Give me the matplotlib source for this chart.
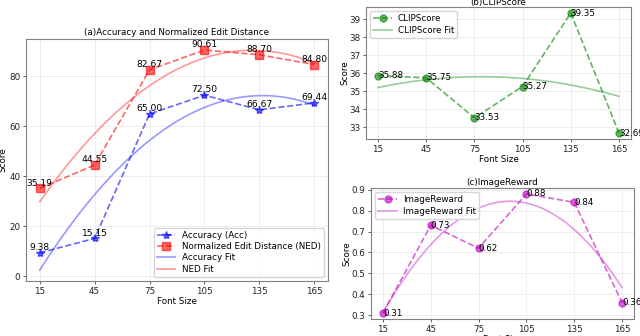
import numpy as np
import matplotlib
matplotlib.use("Agg")
import matplotlib.pyplot as plt
from matplotlib.ticker import MultipleLocator

font_sizes = [15, 45, 75, 105, 135, 165]
acc = [9.38, 15.15, 65.00, 72.50, 66.67, 69.44]
ned = [35.19, 44.55, 82.67, 90.61, 88.70, 84.80]
clip = [35.88, 35.75, 33.53, 35.27, 39.35, 32.69]
imgreward = [0.31, 0.73, 0.62, 0.88, 0.84, 0.36]

W, H = 640, 336
fig = plt.figure(figsize=(6.4, 3.36), dpi=100)
FS = 6.3
LW = 1.2

def px(l, t, r, b):
    return [l / W, 1 - b / H, (r - l) / W, (b - t) / H]

def style(ax):
    for s in ax.spines.values():
        s.set_color('#808080')
        s.set_linewidth(0.8)
    ax.grid(True, color='#ebebeb', linewidth=0.6)
    ax.set_axisbelow(True)
    ax.tick_params(labelsize=FS, length=2, width=0.5, colors='#222222', pad=2)
    ax.set_xticks(font_sizes)

x = np.array(font_sizes, dtype=float)
xs = np.linspace(15, 165, 200)

def fit(y):
    c = np.polyfit(x, np.array(y, dtype=float), 2)
    return np.polyval(c, xs)

leg_kw = dict(fontsize=FS, handlelength=2.1, handletextpad=0.7, borderpad=0.35,
              labelspacing=0.25, fancybox=True, framealpha=0.8)

# (a)
ax1 = fig.add_axes(px(26, 39, 328, 281))
style(ax1)
ax1.plot(font_sizes, acc, '--', marker='*', color='b', alpha=0.6, lw=LW, ms=6, label='Accuracy (Acc)')
ax1.plot(font_sizes, ned, '--', marker='s', color='r', alpha=0.6, lw=LW, ms=5.5, label='Normalized Edit Distance (NED)')
ax1.plot(xs, fit(acc), '-', color='b', alpha=0.4, lw=LW, label='Accuracy Fit')
ax1.plot(xs, fit(ned), '-', color='r', alpha=0.4, lw=LW, label='NED Fit')
for xi, yi in zip(font_sizes, acc):
    ax1.text(xi, yi + 0.3, f'{yi:.2f}', ha='center', va='bottom', fontsize=FS + 0.3)
for xi, yi in zip(font_sizes, ned):
    ax1.text(xi, yi + 0.3, f'{yi:.2f}', ha='center', va='bottom', fontsize=FS + 0.3)
ax1.set_title('(a)Accuracy and Normalized Edit Distance', fontsize=FS, pad=3)
ax1.set_xlabel('Font Size', fontsize=FS, labelpad=1)
ax1.set_ylabel('Score', fontsize=FS, labelpad=1)
ax1.legend(loc='lower right', **leg_kw)

# (b)
ax2 = fig.add_axes(px(366, 7, 631, 139))
style(ax2)
ax2.plot(font_sizes, clip, '--', marker='o', color='g', alpha=0.6, lw=LW, ms=5, label='CLIPScore')
ax2.plot(xs, fit(clip), '-', color='g', alpha=0.4, lw=LW, label='CLIPScore Fit')
for xi, yi in zip(font_sizes, clip):
    ax2.text(xi, yi, f'{yi:.2f}', ha='left', va='center', fontsize=FS)
ax2.yaxis.set_major_locator(MultipleLocator(1))
ax2.set_title('(b)CLIPScore', fontsize=FS, pad=1)
ax2.set_xlabel('Font Size', fontsize=FS, labelpad=1)
ax2.set_ylabel('Score', fontsize=FS, labelpad=0)
ax2.legend(loc='upper left', **leg_kw)

# (c)
ax3 = fig.add_axes(px(371, 188, 634, 319))
style(ax3)
ax3.plot(font_sizes, imgreward, '--', marker='o', color='m', alpha=0.6, lw=LW, ms=5, label='ImageReward')
ax3.plot(xs, fit(imgreward), '-', color='m', alpha=0.4, lw=LW, label='ImageReward Fit')
for xi, yi in zip(font_sizes, imgreward):
    ax3.text(xi, yi, f'{yi:.2f}', ha='left', va='center', fontsize=FS)
ax3.set_title('(c)ImageReward', fontsize=FS, pad=2)
ax3.set_xlabel('Font Size', fontsize=FS, labelpad=1)
ax3.set_ylabel('Score', fontsize=FS, labelpad=0)
ax3.legend(loc='upper left', **leg_kw)

fig.savefig('out.png', dpi=100)
